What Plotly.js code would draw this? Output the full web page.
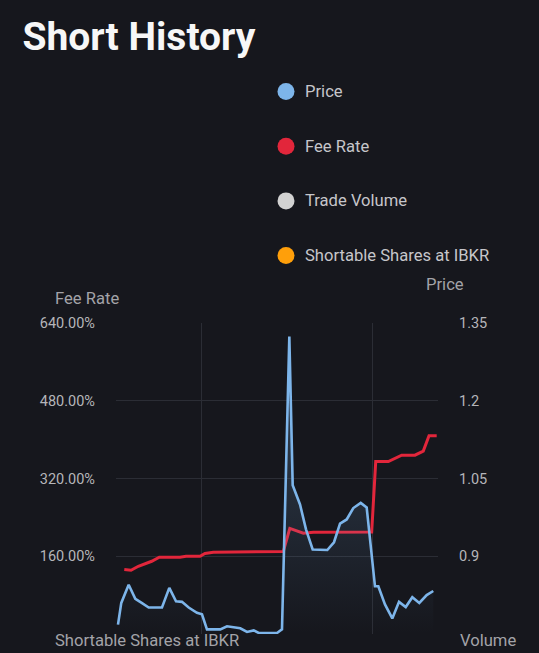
<!DOCTYPE html>
<html>
<head>
<meta charset="utf-8">
<script src="https://cdn.plot.ly/plotly-3.0.1.min.js"></script>
<style>
html,body{margin:0;padding:0;background:#16171d;}
#chart{width:539px;height:653px;}
</style>
</head>
<body>
<div id="chart"></div>
<script>
// Price series (x = day position on the time axis)
const priceDays = [0.29,0.77,1.85,2.82,3.75,4.77,6.71,7.78,8.76,9.63,10.61,11.82,12.55,13.28,15.22,16.2,18.14,19.12,20.1,20.83,23.5,24.23,25.3,25.79,26.86,27.73,28.71,29.78,30.84,31.82,32.7,33.67,34.64,35.72,36.59,37.8,38.29,39.26,40.33,41.31,42.29,43.25,44.27,45.35,46.31];
const priceVals = [0.768,0.810,0.845,0.818,0.810,0.801,0.801,0.839,0.813,0.812,0.801,0.791,0.788,0.759,0.759,0.765,0.761,0.754,0.757,0.752,0.752,0.759,1.324,1.037,1.000,0.952,0.913,0.912,0.912,0.927,0.963,0.971,0.993,1.003,0.994,0.842,0.842,0.807,0.780,0.812,0.802,0.821,0.810,0.825,0.833];

// Fee rate series (%)
const feeDays = [1.21,2.19,3.26,5.21,6.32,9.34,10.22,12.26,12.99,14.2,24.42,25.37,27.34,28.8,37.32,37.91,39.75,41.7,43.64,44.85,45.69,46.81];
const feeVals = [132.7,131.2,139.4,149.7,157.9,157.9,160.0,160.0,165.6,168.2,169.7,217.4,207.5,209.4,209.8,354.8,354.8,368.1,368.1,376.4,408.2,408.2];

// Axes
const feeTicks = [0,160,320,480,640];
const feeTickText = ['', '160.00%', '320.00%', '480.00%', '640.00%'];
const priceTicks = [0.75,0.9,1.05,1.2,1.35];
const priceTickText = ['', '0.9', '1.05', '1.2', '1.35'];
const timeGrid = [12.5, 37.5];

// Legend
const legendNames = ['Price','Fee Rate','Trade Volume','Shortable Shares at IBKR'];
const legendColors = ['#7db5ea','#e2263b','#d2d2d2','#ff9f0a'];

const BG = '#16171d';
const GRID = '#2b2d35';
const FONT = 'Roboto, "Open Sans", sans-serif';

const traces = [
  {
    x: priceDays, y: priceVals, yaxis: 'y2', type: 'scatter', mode: 'lines',
    line: {color: '#7db5ea', width: 2.6},
    fill: 'tozeroy',
    fillgradient: {type: 'vertical', start: 0.75, stop: 1.15,
      colorscale: [[0, 'rgba(125,181,234,0)'], [1, 'rgba(125,181,234,0.2)']]},
    showlegend: false, hoverinfo: 'skip'
  },
  {
    x: feeDays, y: feeVals, yaxis: 'y', type: 'scatter', mode: 'lines',
    line: {color: '#e2263b', width: 3},
    showlegend: false, hoverinfo: 'skip'
  }
];

const W = 539, H = 653;
const L = 116, R = 438, T = 323.3, B = 634.5;
const px = v => (v - L) / (R - L);
const py = v => (B - v) / (B - T);

const annFont = {family: FONT, size: 16.6, color: '#a3a3a8'};
const annotations = [
  {text: 'Fee Rate', x: px(52.5), y: py(298.5)},
  {text: 'Price', x: px(423.5), y: py(284.5)},
  {text: 'Shortable Shares at IBKR', x: px(52.5), y: py(641.5)},
  {text: 'Volume', x: px(457.5), y: py(641.5)}
].map(a => Object.assign({xref: 'paper', yref: 'paper', xanchor: 'left', yanchor: 'middle', showarrow: false, font: annFont}, a));

const shapes = [];
const legendY = [91.7, 146.4, 201.1, 255.8];
legendNames.forEach((n, i) => {
  shapes.push({
    type: 'circle', xref: 'paper', yref: 'paper',
    xsizemode: 'pixel', ysizemode: 'pixel',
    xanchor: px(286), yanchor: py(legendY[i]),
    x0: -8.5, x1: 8.5, y0: -8.5, y1: 8.5,
    fillcolor: legendColors[i], line: {width: 0}
  });
  annotations.push({
    text: n, xref: 'paper', yref: 'paper', x: px(302.5), y: py(legendY[i]),
    xanchor: 'left', yanchor: 'middle', showarrow: false,
    font: {family: FONT, size: 16.6, color: '#c6c6ca'}
  });
});

const layout = {
  width: W, height: H,
  paper_bgcolor: BG, plot_bgcolor: BG,
  margin: {l: L, r: W - R, t: T, b: H - B, pad: 0},
  font: {family: FONT, color: '#b5b5b9'},
  title: {
    text: '<b>Short History</b>',
    font: {family: FONT, size: 39, color: '#f7f7f7'},
    xref: 'container', yref: 'container',
    x: 22.5 / W, xanchor: 'left', y: 1 - 36 / H, yanchor: 'middle'
  },
  showlegend: false,
  xaxis: {
    range: [0, 47], showticklabels: false, tickvals: timeGrid,
    showgrid: true, gridcolor: GRID, gridwidth: 1,
    zeroline: false, showline: false, ticks: '', fixedrange: true
  },
  yaxis: {
    range: [0, 640], tickvals: feeTicks, ticktext: feeTickText,
    showgrid: true, gridcolor: GRID, gridwidth: 1,
    zeroline: false, showline: false, ticks: '',
    tickfont: {family: FONT, size: 14.5, color: '#b5b5b9'},
    ticklabelstandoff: 20
  },
  yaxis2: {
    range: [0.75, 1.35], tickvals: priceTicks, ticktext: priceTickText,
    overlaying: 'y', side: 'right', showgrid: false,
    zeroline: false, showline: false, ticks: '',
    tickfont: {family: FONT, size: 14.5, color: '#b5b5b9'},
    ticklabelstandoff: 20
  },
  shapes: shapes,
  annotations: annotations
};

Plotly.newPlot('chart', traces, layout, {displayModeBar: false, staticPlot: true});
</script>
</body>
</html>
